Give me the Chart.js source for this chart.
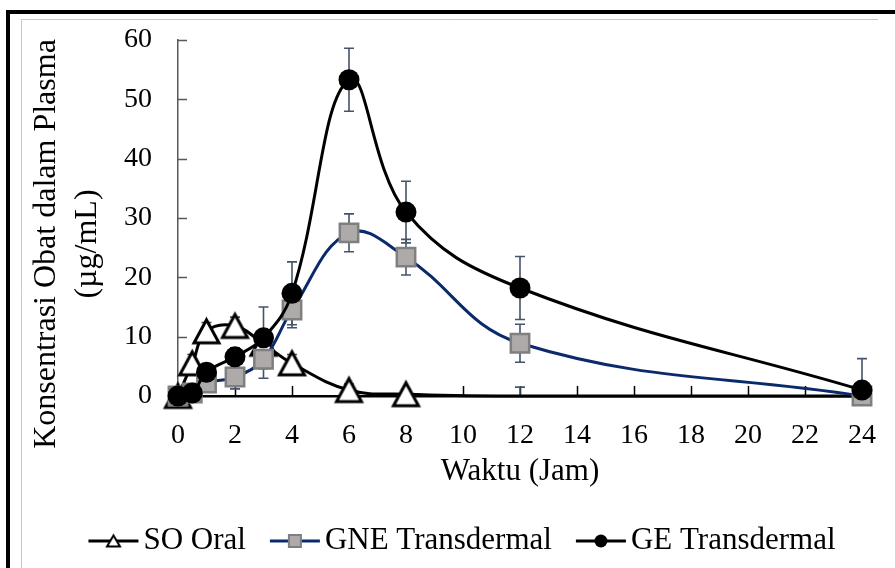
<!DOCTYPE html>
<html>
<head>
<meta charset="utf-8">
<script src="https://cdn.jsdelivr.net/npm/chart.js@4.4.0/dist/chart.umd.min.js"></script>
<style>
  html, body { margin: 0; padding: 0; background: #fff; }
  #wrap { width: 895px; height: 568px; }
</style>
</head>
<body>
<div id="wrap"><canvas id="chart" width="895" height="568"></canvas></div>
<script>
// sampling times (jam)
const times = [0, 0.5, 1, 2, 3, 4, 6, 8, 12, 24];

// plasma concentration (µg/mL) and SD per formulation
const soOral = [0, 5.5, 10.9, 11.8, 8.8, 5.5, 1.0, 0.3, 0, 0];
const soOralSd = [0, 1.5, 1.5, 1.5, 1.5, 1.5, 1.0, 0.8, 1.5, 0];
const gneTrans = [0, 0.5, 2.2, 3.2, 6.2, 14.5, 27.5, 23.4, 8.9, 0];
const gneTransSd = [0, 0.5, 1.5, 2.0, 3.2, 3.0, 3.2, 3.0, 3.2, 0.5];
const geTrans = [0, 0.5, 4.0, 6.6, 9.8, 17.3, 53.3, 31.0, 18.2, 1.0];
const geTransSd = [0, 0.5, 1.0, 1.5, 5.2, 5.3, 5.3, 5.2, 5.3, 5.3];

const xTicks = [0, 2, 4, 6, 8, 10, 12, 14, 16, 18, 20, 22, 24];
const yTicks = [0, 10, 20, 30, 40, 50, 60];

const labels = ['SO Oral', 'GNE Transdermal', 'GE Transdermal'];
const xTitle = 'Waktu (Jam)';
const yTitle = ['Konsentrasi Obat dalam Plasma', '(µg/mL)'];

const FONT = "'Liberation Serif', 'Times New Roman', serif";
const NAVY = '#0b2a6b';
const ERR = '#44546a';

// open triangle marker, centred on its bounding box
function triangleMarker(w, h, lw) {
  const c = document.createElement('canvas');
  c.width = w + lw * 2 + 4;
  c.height = h + lw * 2 + 4;
  const g = c.getContext('2d');
  const cx = c.width / 2, cy = c.height / 2;
  g.beginPath();
  g.moveTo(cx, cy - h / 2);
  g.lineTo(cx + w / 2, cy + h / 2);
  g.lineTo(cx - w / 2, cy + h / 2);
  g.closePath();
  g.fillStyle = '#fff';
  g.fill();
  g.lineWidth = lw;
  g.lineJoin = 'miter';
  g.strokeStyle = '#000';
  g.stroke();
  return c;
}
const bigTri = triangleMarker(25, 23, 3);
const smallTri = triangleMarker(13, 11, 2);

const pts = (ys) => times.map((t, i) => ({ x: t, y: ys[i] }));

const framePlugin = {
  id: 'frame',
  beforeDraw(chart) {
    const ctx = chart.ctx;
    ctx.save();
    ctx.fillStyle = '#000';
    ctx.fillRect(6, 10, 889, 4);
    ctx.fillRect(6, 10, 4, 558);
    ctx.strokeStyle = '#c8c8c8';
    ctx.lineWidth = 1;
    ctx.beginPath();
    ctx.moveTo(21, 19.5); ctx.lineTo(878, 19.5);
    ctx.moveTo(21.5, 19); ctx.lineTo(21.5, 568);
    ctx.stroke();
    ctx.restore();
  }
};

// inward tick marks and error bars, under the series
const underlay = {
  id: 'underlay',
  beforeDatasetsDraw(chart) {
    const { ctx, scales: { x, y } } = chart;
    ctx.save();
    ctx.lineWidth = 1.5;
    ctx.strokeStyle = '#000';
    ctx.beginPath();
    xTicks.forEach(v => {
      const px = Math.round(x.getPixelForValue(v)) + 0.5;
      ctx.moveTo(px, y.bottom); ctx.lineTo(px, y.bottom - 10);
    });
    ctx.stroke();
    ctx.strokeStyle = '#595959';
    ctx.beginPath();
    yTicks.forEach(v => {
      const py = Math.round(y.getPixelForValue(v)) + 0.5;
      ctx.moveTo(x.left, py); ctx.lineTo(x.left + 9, py);
    });
    ctx.stroke();

    ctx.strokeStyle = ERR;
    ctx.lineWidth = 1.6;
    chart.data.datasets.forEach(ds => {
      ds.data.forEach((p, i) => {
        const sd = ds.sd[i];
        if (!sd) return;
        const px = x.getPixelForValue(p.x);
        const hi = y.getPixelForValue(p.y + sd);
        const loVal = p.y - sd;
        const lo = y.getPixelForValue(Math.max(loVal, 0));
        ctx.beginPath();
        ctx.moveTo(px, hi); ctx.lineTo(px, lo);
        ctx.moveTo(px - 5, hi); ctx.lineTo(px + 5, hi);
        if (loVal >= 0) { ctx.moveTo(px - 5, lo); ctx.lineTo(px + 5, lo); }
        ctx.stroke();
      });
    });
    ctx.restore();
  }
};

// rotated y title and the line+marker legend
const overlay = {
  id: 'overlay',
  afterDraw(chart) {
    const ctx = chart.ctx;
    ctx.save();
    ctx.fillStyle = '#000';
    ctx.font = '32px ' + FONT;
    ctx.textAlign = 'center';
    ctx.textBaseline = 'middle';
    ctx.save();
    ctx.translate(47, 244);
    ctx.rotate(-Math.PI / 2);
    ctx.fillText(yTitle[0], 0, 0);
    ctx.fillText(yTitle[1], 0, 41);
    ctx.restore();

    const items = [
      { text: labels[0], color: '#000', draw: (cx, cy) => ctx.drawImage(smallTri, cx - smallTri.width / 2, cy - smallTri.height / 2) },
      { text: labels[1], color: NAVY, draw: (cx, cy) => {
          ctx.fillStyle = '#aeaaaa'; ctx.fillRect(cx - 6, cy - 6, 12, 12);
          ctx.strokeStyle = '#7f7f7f'; ctx.lineWidth = 2; ctx.strokeRect(cx - 6, cy - 6, 12, 12);
        } },
      { text: labels[2], color: '#000', draw: (cx, cy) => {
          ctx.fillStyle = '#000'; ctx.beginPath(); ctx.arc(cx, cy, 6.5, 0, Math.PI * 2); ctx.fill();
        } }
    ];
    const iconW = 50, textGap = 5, itemGap = 24, cy = 541;
    ctx.font = '31px ' + FONT;
    ctx.textAlign = 'left';
    const widths = items.map(it => ctx.measureText(it.text).width);
    const total = widths.reduce((a, w) => a + iconW + textGap + w, 0) + itemGap * (items.length - 1);
    let xPos = 462 - total / 2;
    items.forEach((it, i) => {
      ctx.strokeStyle = it.color;
      ctx.lineWidth = 3;
      ctx.beginPath();
      ctx.moveTo(xPos, cy); ctx.lineTo(xPos + iconW, cy);
      ctx.stroke();
      it.draw(xPos + iconW / 2, cy);
      ctx.fillStyle = '#000';
      ctx.fillText(it.text, xPos + iconW + textGap, cy);
      xPos += iconW + textGap + widths[i] + itemGap;
    });
    ctx.restore();
  }
};

new Chart(document.getElementById('chart'), {
  type: 'line',
  data: {
    datasets: [
      {
        label: labels[0],
        data: pts(soOral),
        sd: soOralSd,
        borderColor: '#000',
        borderWidth: 3,
        tension: 0.4,
        pointStyle: bigTri,
        pointRadius: c => (times[c.dataIndex] > 8 ? 0 : 14),
        order: 2,
        clip: false
      },
      {
        label: labels[1],
        data: pts(gneTrans),
        sd: gneTransSd,
        borderColor: NAVY,
        borderWidth: 3,
        tension: 0.4,
        pointStyle: 'rect',
        pointRadius: 13,
        pointBackgroundColor: '#aeaaaa',
        pointBorderColor: '#7f7f7f',
        pointBorderWidth: 2.5,
        order: 1,
        clip: false
      },
      {
        label: labels[2],
        data: pts(geTrans),
        sd: geTransSd,
        borderColor: '#000',
        borderWidth: 3,
        tension: 0.4,
        pointStyle: 'circle',
        pointRadius: 10.5,
        pointBackgroundColor: '#000',
        pointBorderColor: '#000',
        pointBorderWidth: 0,
        order: 0,
        clip: false
      }
    ]
  },
  options: {
    responsive: false,
    animation: false,
    events: [],
    layout: { padding: { left: 22, top: 40, right: 33, bottom: 72 } },
    plugins: { legend: { display: false }, tooltip: { enabled: false } },
    scales: {
      x: {
        type: 'linear',
        min: 0,
        max: 24,
        afterBuildTicks: s => { s.ticks = xTicks.map(v => ({ value: v })); },
        afterFit: s => { s.height = 100; },
        grid: { display: false },
        border: { color: '#000', width: 2.5 },
        ticks: { color: '#000', padding: 15, font: { family: FONT, size: 28 } },
        title: {
          display: true,
          text: xTitle,
          color: '#000',
          font: { family: FONT, size: 31 },
          padding: { top: 0, bottom: 6 }
        }
      },
      y: {
        min: 0,
        max: 60,
        afterBuildTicks: s => { s.ticks = yTicks.map(v => ({ value: v })); },
        afterFit: s => { s.width = 156; },
        grid: { display: false },
        border: { color: '#595959', width: 1.5 },
        ticks: { color: '#000', padding: 18, font: { family: FONT, size: 28 } }
      }
    }
  },
  plugins: [framePlugin, underlay, overlay]
});
</script>
</body>
</html>
